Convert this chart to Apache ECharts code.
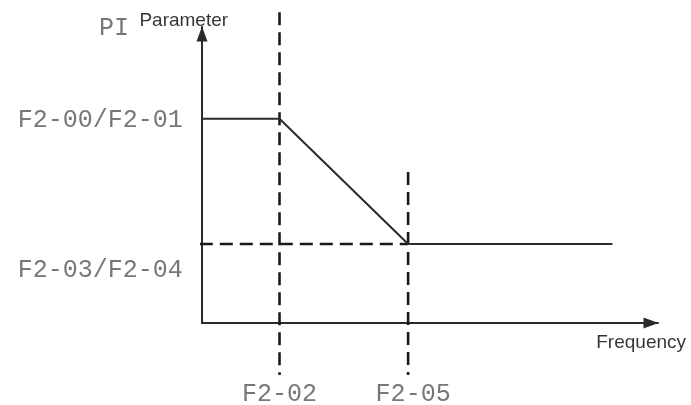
<!DOCTYPE html>
<html>
<head>
<meta charset="utf-8">
<script src="https://cdn.jsdelivr.net/npm/echarts@6/dist/echarts.min.js"></script>
<style>html,body{margin:0;padding:0;background:#fff}#c{width:691px;height:405px}</style>
</head>
<body>
<div id="c"></div>
<script>
// Characteristic points (x: frequency units 0..100, y: PI parameter units 0..100)
var curveX = [0, 17, 45.2, 90];
var curveY = [69, 69, 26.7, 26.7];
// Dashed guide lines
var guideF202X = [17, 17];
var guideF202Y = [105, -17.6];
var guideF205X = [45.2, 45.2];
var guideF205Y = [51, -17.6];
var guideLowX = [-26.8, 45.2];
var guideLowY = [26.7, 26.7];
// Tick labels (name, x, y)
var labelNames = ['F2-00/F2-01', 'F2-03/F2-04', 'F2-02', 'F2-05', 'PI'];
var labelX = [-4.2, -4.2, 17, 46.3, -19.3];
var labelY = [68.5, 17.9, -24, -24, 99.5];
var axisNames = ['Parameter', 'Frequency'];
var axisNameX = [-4, 96.3];
var axisNameY = [102, -6.8];

function pairs(xs, ys) { return xs.map(function (x, i) { return [x, ys[i]]; }); }

var dash = { color: '#1a1a1a', width: 2.6, type: [13, 7] };
var guide = function (xs, ys) {
  return { type: 'line', data: pairs(xs, ys), symbol: 'none', clip: false, lineStyle: dash, silent: true, z: 3 };
};

var axisLineStyle = {
  show: true, lineStyle: { color: '#2a2a2a', width: 2 },
  symbol: ['none', 'triangle'], symbolSize: [11, 15], symbolOffset: [0, -7]
};

var chart = echarts.init(document.getElementById('c'));
chart.setOption({
  animation: false,
  grid: { left: 202, top: 27, width: 456, height: 296 },
  xAxis: {
    type: 'value', min: 0, max: 100, axisLine: axisLineStyle,
    axisTick: { show: false }, axisLabel: { show: false }, splitLine: { show: false }
  },
  yAxis: {
    type: 'value', min: 0, max: 100, axisLine: axisLineStyle,
    axisTick: { show: false }, axisLabel: { show: false }, splitLine: { show: false }
  },
  series: [
    guide(guideF202X, guideF202Y),
    guide(guideF205X, guideF205Y),
    guide(guideLowX, guideLowY),
    { type: 'line', data: pairs(curveX, curveY), symbol: 'none', clip: false,
      lineStyle: { color: '#2a2a2a', width: 2 }, z: 4 },
    { type: 'scatter', symbolSize: 0, clip: false, silent: true,
      data: labelNames.map(function (n, i) {
        var d = { name: n, value: [labelX[i], labelY[i]] };
        if (i < 2) d.label = { align: 'right' };
        return d;
      }),
      label: {
        show: true, formatter: '{b}', position: 'inside',
        fontFamily: 'Liberation Mono', fontSize: 25, color: '#555',
        align: 'center', verticalAlign: 'middle'
      }
    },
    { type: 'scatter', symbolSize: 0, clip: false, silent: true,
      data: axisNames.map(function (n, i) { return { name: n, value: [axisNameX[i], axisNameY[i]] }; }),
      label: {
        show: true, formatter: '{b}', position: 'inside',
        fontFamily: 'Liberation Sans', fontSize: 19, color: '#000',
        align: 'center', verticalAlign: 'middle'
      }
    }
  ]
});
</script>
</body>
</html>
